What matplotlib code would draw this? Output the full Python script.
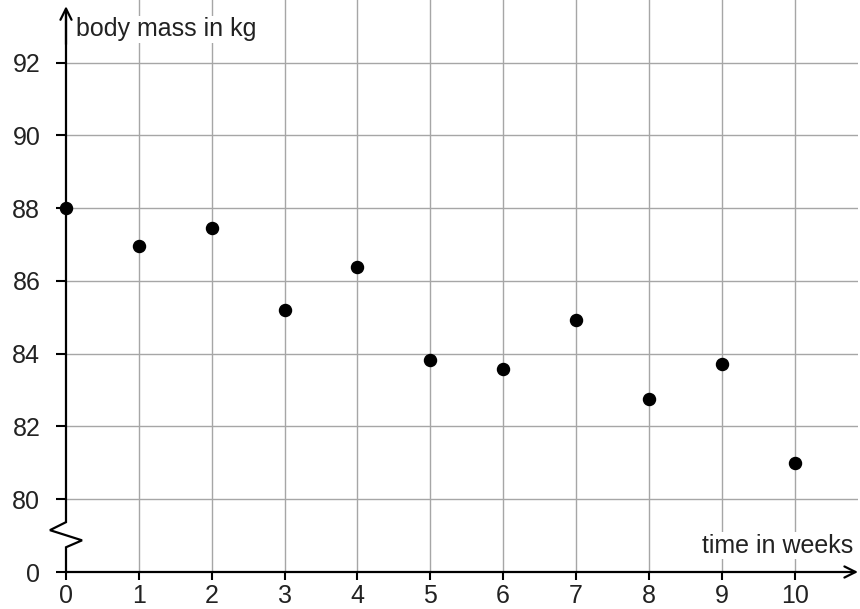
import numpy as np
import matplotlib.pyplot as plt

# data
weeks = [0, 1, 2, 3, 4, 5, 6, 7, 8, 9, 10]
mass = [88.0, 86.95, 87.45, 85.19, 86.37, 83.82, 83.57, 84.92, 82.75, 83.71, 80.99]
y_ticks = [80, 82, 84, 86, 88, 90, 92]
y_zero_pos = 78  # where the "0" sits below the axis break

plt.rcParams['font.family'] = ['Liberation Sans', 'DejaVu Sans']

fig = plt.figure(figsize=(8.6, 6.09), dpi=100)
ax = fig.add_axes([66 / 860, 1 - 572 / 609, (858 - 66) / 860, 572 / 609])
ax.set_xlim(0, 10.87)
ax.set_ylim(78, 93.72)
for s in ax.spines.values():
    s.set_visible(False)

# grid
for x in weeks[1:]:
    ax.plot([x, x], [78, 93.72], color='#a6a6a6', lw=1, zorder=1)
for y in y_ticks:
    ax.plot([0, 10.87], [y, y], color='#a6a6a6', lw=1, zorder=1)

# ticks
ax.set_xticks(weeks)
ax.set_xticklabels([str(w) for w in weeks])
ax.set_yticks([y_zero_pos] + y_ticks)
ax.set_yticklabels(['0'] + [str(y) for y in y_ticks])
ax.tick_params(axis='both', direction='out', width=1.5, color='black',
               labelsize=18, labelcolor='#222222')
ax.tick_params(axis='x', length=5.5, pad=3)
ax.tick_params(axis='y', length=7.5, pad=11)

# y axis with break
ax.plot([0, 0, 0.22, -0.22, 0, 0], [78, 78.68, 78.87, 79.15, 79.37, 93.3],
        color='black', lw=1.6, clip_on=False, zorder=3, solid_joinstyle='miter')
ax.annotate('', xy=(0, 93.55), xytext=(0, 92.5),
            arrowprops=dict(arrowstyle='->', lw=1.6, color='black', mutation_scale=20,
                            shrinkA=0, shrinkB=0),
            annotation_clip=False, zorder=3)
# x axis
ax.annotate('', xy=(10.87, 78), xytext=(0, 78),
            arrowprops=dict(arrowstyle='->', lw=1.6, color='black', mutation_scale=20,
                            shrinkA=0, shrinkB=0),
            annotation_clip=False, zorder=3)

ax.scatter(weeks, mass, s=75, color='black', zorder=4, clip_on=False)

ax.text(0.14, 92.92, 'body mass in kg', fontsize=18, ha='left', va='center',
        color='#222222', bbox=dict(facecolor='white', edgecolor='none', pad=1), zorder=2)
ax.text(10.8, 78.72, 'time in weeks', fontsize=18, ha='right', va='center',
        color='#222222', bbox=dict(facecolor='white', edgecolor='none', pad=1), zorder=2)

fig.savefig('out.png', dpi=100)
